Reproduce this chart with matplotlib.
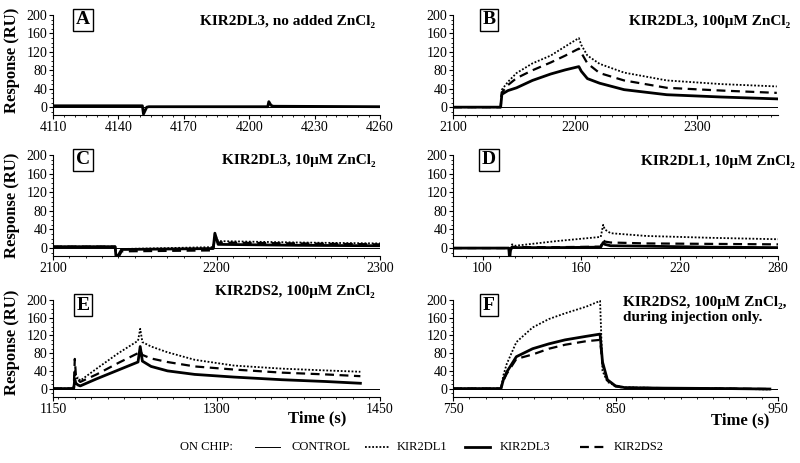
import numpy as np
import matplotlib.pyplot as plt
from matplotlib.lines import Line2D
from matplotlib.ticker import MultipleLocator

plt.rcParams['font.family'] = ['Liberation Serif', 'DejaVu Serif']

# Panel A - KIR2DL3, no added ZnCl2
a_t = [4110, 4151, 4151.5, 4152, 4153, 4154, 4208.5, 4209, 4210, 4211, 4260]
a_dl3 = [3, 3, -15, -10, 0, 1, 1, 12, 4, 2, 1]

# Panel B - KIR2DL3, 100uM ZnCl2
b_t = [2100, 2139, 2140, 2145, 2152, 2165, 2180, 2192, 2203, 2205, 2210, 2220, 2240, 2275, 2320, 2365]
b_dl1 = [0, 0, 38, 55, 74, 95, 112, 132, 150, 135, 112, 94, 75, 58, 50, 45]
b_ds2 = [0, 0, 32, 48, 63, 80, 97, 112, 127, 118, 95, 74, 58, 42, 36, 31]
b_dl3 = [0, 0, 28, 36, 42, 58, 72, 81, 88, 78, 62, 52, 38, 27, 22, 18]

# Panel C - KIR2DL3, 10uM ZnCl2
c_t = [2100, 2138, 2139, 2140, 2142, 2170, 2197, 2198, 2199, 2201, 2250, 2300]
c_dl1 = [3, 3, -30, -20, -2, 0, 2, 2, 30, 15, 12, 10]
c_ds2 = [3, 3, -35, -20, -7, -6, -5, -5, 25, 12, 10, 8]
c_dl3 = [3, 3, -38, -15, -3, -2, -1, -1, 32, 8, 6, 5]

# Panel D - KIR2DL1, 10uM ZnCl2
d_t = [82, 116, 116.5, 117, 118, 120, 145, 172, 173.5, 174.5, 178, 200, 240, 280]
d_dl1 = [0, 0, -22, -5, 8, 5, 15, 24, 50, 40, 32, 26, 22, 19]
d_ds2 = [0, 0, -20, -3, 3, 2, 2, 3, 18, 14, 12, 10, 9, 8]
d_dl3 = [0, 0, -25, -5, 2, 1, 1, 2, 12, 8, 5, 4, 2, 1]

# Panel E - KIR2DS2, 100uM ZnCl2
e_t = [1150, 1169, 1170, 1171, 1173, 1175, 1190, 1210, 1228, 1230, 1232, 1240, 1255, 1280, 1316, 1360, 1400, 1432]
e_dl1 = [0, 0, 42, 20, 25, 18, 45, 80, 108, 135, 105, 95, 82, 65, 52, 45, 41, 38]
e_ds2 = [0, 0, 67, 30, 20, 15, 32, 58, 80, 86, 76, 68, 60, 50, 43, 36, 32, 28]
e_dl3 = [0, 0, 20, 12, 8, 6, 22, 42, 60, 95, 62, 50, 40, 32, 26, 20, 16, 12]

# Panel F - KIR2DS2, 100uM ZnCl2 during injection only
f_t = [750, 779.5, 781, 783, 789, 799, 809, 819, 832, 840.5, 842, 845, 850, 856, 880, 920, 945]
f_dl1 = [0, 0, 30, 55, 105, 138, 157, 170, 185, 198, 40, 15, 6, 3, 1, 0, -2]
f_dl3 = [0, 0, 20, 37, 72, 90, 101, 110, 118, 123, 60, 20, 6, 2, 1, 0, -1]
f_ds2 = [0, 0, 18, 33, 67, 77, 90, 99, 107, 110, 55, 18, 5, 2, 1, 0, -1]

letters = ['A', 'B', 'C', 'D', 'E', 'F']
titles = ['KIR2DL3, no added ZnCl\u2082', 'KIR2DL3, 100\u03bcM ZnCl\u2082',
          'KIR2DL3, 10\u03bcM ZnCl\u2082', 'KIR2DL1, 10\u03bcM ZnCl\u2082',
          'KIR2DS2, 100\u03bcM ZnCl\u2082',
          'KIR2DS2, 100\u03bcM ZnCl\u2082,\nduring injection only.']
xlims = [(4110, 4260), (2100, 2366), (2100, 2300), (82, 280), (1150, 1450), (750, 950)]
xticks = [[4110, 4140, 4170, 4200, 4230, 4260], [2100, 2200, 2300], [2100, 2200, 2300],
          [100, 160, 220, 280], [1150, 1300, 1450], [750, 850, 950]]
xminor = [5, 10, 10, 10, 15, 10]

W, H = 800, 463
fig = plt.figure(figsize=(8, 4.63), dpi=100)

def px_axes(left, top, right, bottom):
    return fig.add_axes([left / W, 1 - bottom / H, (right - left) / W, (bottom - top) / H])

rows = [(15, 115, -17), (155, 256, -17), (300, 397, -19)]
cols = [(53, 380), (453, 778)]

data = [
    (a_t, None, a_dl3, None),
    (b_t, b_dl1, b_dl3, b_ds2),
    (c_t, c_dl1, c_dl3, c_ds2),
    (d_t, d_dl1, d_dl3, d_ds2),
    (e_t, e_dl1, e_dl3, e_ds2),
    (f_t, f_dl1, f_dl3, f_ds2),
]

for i in range(6):
    r, c = i // 2, i % 2
    top, bot, ymin = rows[r]
    ax = px_axes(cols[c][0], top, cols[c][1], bot)
    t, dl1, dl3, ds2 = data[i]
    ax.plot(xlims[i], [0, 0], color='black', lw=0.7)
    if dl1 is not None:
        ax.plot(t, dl1, color='black', lw=1.3, linestyle=(0, (1, 1)))
    if ds2 is not None:
        ax.plot(t, ds2, color='black', lw=1.6, linestyle=(0, (4, 2.5)))
    ax.plot(t, dl3, color='black', lw=2.0)
    ax.set_xlim(xlims[i])
    ax.set_ylim(ymin, 200)
    ax.set_xticks(xticks[i])
    ax.set_yticks([0, 40, 80, 120, 160, 200])
    ax.xaxis.set_minor_locator(MultipleLocator(xminor[i]))
    ax.yaxis.set_minor_locator(MultipleLocator(10))
    ax.spines['top'].set_visible(False)
    ax.spines['right'].set_visible(False)
    ax.tick_params(which='major', length=3, width=0.8, labelsize=10, pad=1)
    ax.tick_params(which='minor', length=1.5, width=0.6)

    # letter box
    bx = 83 if c == 0 else 489
    by = top + 5
    fig.text(bx / W, 1 - by / H, letters[i], ha='center', va='center',
             fontsize=14, fontweight='bold',
             bbox=dict(boxstyle='square,pad=0.15', fc='white', ec='black', lw=1))

# titles
fig.text(375 / W, 1 - 21 / H, titles[0], ha='right', va='center', fontsize=11, fontweight='bold')
fig.text(790 / W, 1 - 21 / H, titles[1], ha='right', va='center', fontsize=11, fontweight='bold')
fig.text(375 / W, 1 - 161 / H, titles[2], ha='right', va='center', fontsize=11, fontweight='bold')
fig.text(795 / W, 1 - 162 / H, titles[3], ha='right', va='center', fontsize=11, fontweight='bold')
fig.text(375 / W, 1 - 292 / H, titles[4], ha='right', va='center', fontsize=11, fontweight='bold')
fig.text(623 / W, 1 - 310 / H, titles[5], ha='left', va='center', fontsize=11,
         fontweight='bold', linespacing=1.2)

# y labels
for yc in [60, 205, 342]:
    fig.text(12 / W, 1 - yc / H, 'Response (RU)', rotation=90, ha='center', va='center',
             fontsize=12, fontweight='bold')

# x labels
fig.text(317 / W, 1 - 418 / H, 'Time (s)', ha='center', va='center', fontsize=12, fontweight='bold')
fig.text(740 / W, 1 - 420 / H, 'Time (s)', ha='center', va='center', fontsize=12, fontweight='bold')

# legend
ly = 1 - 447 / H
fig.text(180 / W, ly, 'ON CHIP:', ha='left', va='center', fontsize=9)
legend_items = [
    ('CONTROL', dict(lw=0.7, linestyle='-'), 255, 292),
    ('KIR2DL1', dict(lw=1.3, linestyle=(0, (1, 1))), 365, 397),
    ('KIR2DL3', dict(lw=2.0, linestyle='-'), 465, 500),
    ('KIR2DS2', dict(lw=1.6, linestyle=(0, (4, 2.5))), 580, 614),
]
for label, style, x0, tx in legend_items:
    fig.add_artist(Line2D([x0 / W, (x0 + 25) / W], [ly, ly], color='black', **style))
    fig.text(tx / W, ly, label, ha='left', va='center', fontsize=9)

plt.savefig('out.png', dpi=100)
